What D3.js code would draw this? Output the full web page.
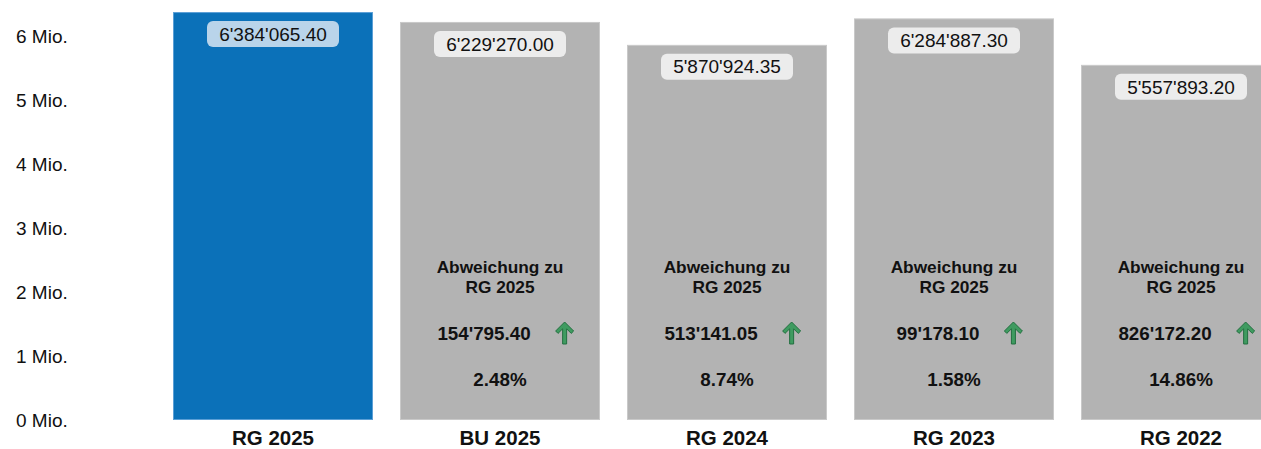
<!DOCTYPE html>
<html>
<head>
<meta charset="utf-8">
<script src="https://cdn.jsdelivr.net/npm/d3@7"></script>
<style>
  html, body { margin: 0; padding: 0; background: #fff; overflow: hidden; }
  svg { display: block; font-family: "Liberation Sans", Arial, sans-serif; }
</style>
</head>
<body>
<svg id="chart"></svg>
<script>
// values
var categories = ["RG 2025", "BU 2025", "RG 2024", "RG 2023", "RG 2022"]
var amounts = [6384065.40, 6229270.00, 5870924.35, 6284887.30, 5557893.20]
var valueLabels = ["6'384'065.40", "6'229'270.00", "5'870'924.35", "6'284'887.30", "5'557'893.20"]
var deviations = [null, "154'795.40", "513'141.05", "99'178.10", "826'172.20"]
var deviationPct = [null, "2.48%", "8.74%", "1.58%", "14.86%"]
var yTicks = [0, 1e6, 2e6, 3e6, 4e6, 5e6, 6e6]
var compareTo = "RG 2025"

var width = 1261, height = 449
var baseY = 420, pxPerMio = 63.9

var svg = d3.select("#chart")
	.attr("width", width)
	.attr("height", height)
	.attr("viewBox", [0, 0, width, height])

var x = d3.scaleBand()
	.domain(categories)
	.range([159.5, 1294.5])
	.paddingInner(0.119)
	.paddingOuter(0.0595)

var y = d3.scaleLinear()
	.domain([0, 7e6])
	.range([baseY, baseY - 7 * pxPerMio])

// y axis labels
var yAxis = g => g
	.call(d3.axisLeft(y).tickValues(yTicks).tickSize(0).tickPadding(0)
		.tickFormat(d => (d / 1e6) + " Mio."))
	.call(g => g.select(".domain").remove())
	.call(g => g.selectAll("text")
		.attr("x", 16)
		.attr("text-anchor", "start")
		.attr("font-size", 19)
		.attr("font-family", "Liberation Sans, Arial, sans-serif")
		.attr("fill", "#111"))

svg.append("g").call(yAxis)

var bars = svg.append("g").selectAll("g")
	.data(categories)
	.join("g")

bars.append("rect")
	.attr("x", d => x(d) + 0.5)
	.attr("y", (d, i) => y(amounts[i]) + 0.5)
	.attr("width", x.bandwidth() - 1)
	.attr("height", (d, i) => y(0) - y(amounts[i]) - 1)
	.attr("fill", (d, i) => i === 0 ? "#0b71b9" : "#b3b3b3")
	.attr("stroke", (d, i) => i === 0 ? "#5b9fd6" : "#c9c9c9")
	.attr("stroke-width", 1)

// value pills
bars.append("rect")
	.attr("x", d => x(d) + x.bandwidth() / 2 - 66)
	.attr("y", (d, i) => y(amounts[i]) + 9)
	.attr("width", 132)
	.attr("height", 26)
	.attr("rx", 6)
	.attr("fill", (d, i) => i === 0 ? "#b9d4ea" : "#ececec")

bars.append("text")
	.attr("x", d => x(d) + x.bandwidth() / 2)
	.attr("y", (d, i) => y(amounts[i]) + 22)
	.attr("dy", "0.35em")
	.attr("text-anchor", "middle")
	.attr("font-size", 19)
	.attr("fill", "#111")
	.text((d, i) => valueLabels[i])

// deviation blocks
var dev = bars.filter((d, i) => deviations[i] !== null)

dev.append("text")
	.attr("x", d => x(d) + x.bandwidth() / 2)
	.attr("y", 273)
	.attr("text-anchor", "middle")
	.attr("font-size", 17.3)
	.attr("font-weight", "bold")
	.attr("fill", "#111")
	.call(t => t.append("tspan").text("Abweichung zu"))
	.call(t => t.append("tspan")
		.attr("x", d => x(d) + x.bandwidth() / 2)
		.attr("dy", 19.5)
		.text(compareTo))

dev.append("text")
	.attr("class", "devnum")
	.attr("x", d => x(d) + x.bandwidth() / 2 - 16)
	.attr("y", 340)
	.attr("text-anchor", "middle")
	.attr("font-size", 18.8)
	.attr("font-weight", "bold")
	.attr("fill", "#111")
	.text(d => deviations[categories.indexOf(d)])

dev.append("text")
	.attr("x", d => x(d) + x.bandwidth() / 2)
	.attr("y", 386)
	.attr("text-anchor", "middle")
	.attr("font-size", 18.8)
	.attr("font-weight", "bold")
	.attr("fill", "#111")
	.text(d => deviationPct[categories.indexOf(d)])

// up arrows placed right of the number
dev.each(function(d) {
	var g = d3.select(this)
	var box = g.select(".devnum").node().getBBox()
	var cx = box.x + box.width + 34
	g.append("path")
		.attr("transform", `translate(${cx},333)`)
		.attr("d", "M0,-11 L9,-2 L6.6,0.4 L2,-4.2 L2,11 L-2,11 L-2,-4.2 L-6.6,0.4 L-9,-2 Z")
		.attr("fill", "#3f9b60")
		.attr("stroke", "#236f40")
		.attr("stroke-width", 1)
		.attr("stroke-linejoin", "round")
})

// category labels
var xAxis = g => g
	.attr("transform", `translate(0,${baseY})`)
	.call(d3.axisBottom(x).tickSize(0).tickPadding(0))
	.call(g => g.select(".domain").remove())
	.call(g => g.selectAll("text")
		.attr("y", 18)
		.attr("dy", "0.35em")
		.attr("font-size", 20.5)
		.attr("font-weight", "bold")
		.attr("font-family", "Liberation Sans, Arial, sans-serif")
		.attr("fill", "#111"))

svg.append("g").call(xAxis)
</script>
</body>
</html>
